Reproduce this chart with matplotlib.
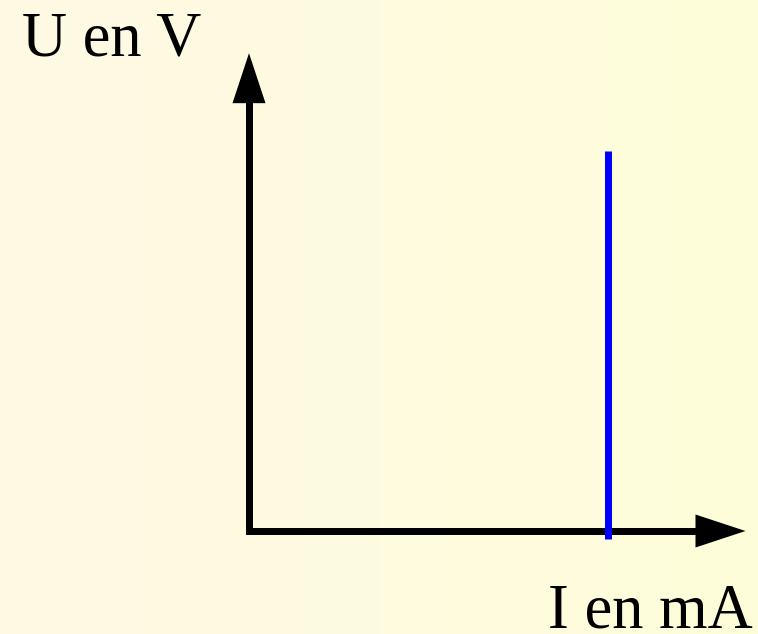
import numpy as np
import matplotlib
matplotlib.use("Agg")
import matplotlib.pyplot as plt
from matplotlib.colors import LinearSegmentedColormap

# Data (schematic: ideal current source characteristic)
current_value = 10.0          # I (mA) where the vertical characteristic lies
u_range = [-0.22, 10.58]      # U span of the blue characteristic
x_axis_end = 13.83            # arrow tip of the I axis
y_axis_end = 13.31            # arrow tip of the U axis
x_label = "I en mA"
y_label = "U en V"

W, H, DPI = 758, 634, 100
fig = plt.figure(figsize=(W / DPI, H / DPI), dpi=DPI)
ax = fig.add_axes([0, 0, 1, 1])

scale = 35.9  # px per unit
ox, oy = 249, 531  # origin in pixels (from top-left)
xmin, xmax = -ox / scale, (W - ox) / scale
ymin, ymax = -(H - oy) / scale, oy / scale
ax.set_xlim(xmin, xmax)
ax.set_ylim(ymin, ymax)
ax.axis("off")

# background gradient
cmap = LinearSegmentedColormap.from_list("bg", ["#FDF9E4", "#FFFEDA"])
grad = np.linspace(0, 1, 256).reshape(1, -1)
ax.imshow(grad, extent=[xmin, xmax, ymin, ymax], cmap=cmap, aspect="auto", zorder=0)

lw = 7 * 72 / DPI
head_len = 50 / scale
head_hw = 16.5 / scale

# axes lines
ax.plot([0, 0, x_axis_end - head_len + 0.05], [y_axis_end - head_len + 0.05, 0, 0],
        color="black", lw=lw, solid_joinstyle="miter", solid_capstyle="butt", zorder=2)
# arrow heads
ax.fill([-head_hw, head_hw, 0], [y_axis_end - head_len] * 2 + [y_axis_end],
        color="black", lw=0, zorder=3)
ax.fill([x_axis_end - head_len] * 2 + [x_axis_end], [-head_hw, head_hw, 0],
        color="black", lw=0, zorder=3)

# characteristic
ax.plot([current_value, current_value], u_range, color="#0000FF", lw=lw,
        solid_capstyle="butt", zorder=4)

# labels (figure coordinates in pixels -> fractions)
fig.text(22 / W, 1 - 55 / H, y_label, fontsize=45,
         fontfamily=["Liberation Serif"], ha="left", va="baseline")
fig.text(753 / W, 1 - 628 / H, x_label, fontsize=45,
         fontfamily=["Liberation Serif"], ha="right", va="baseline")

fig.savefig("out.png", dpi=DPI)
